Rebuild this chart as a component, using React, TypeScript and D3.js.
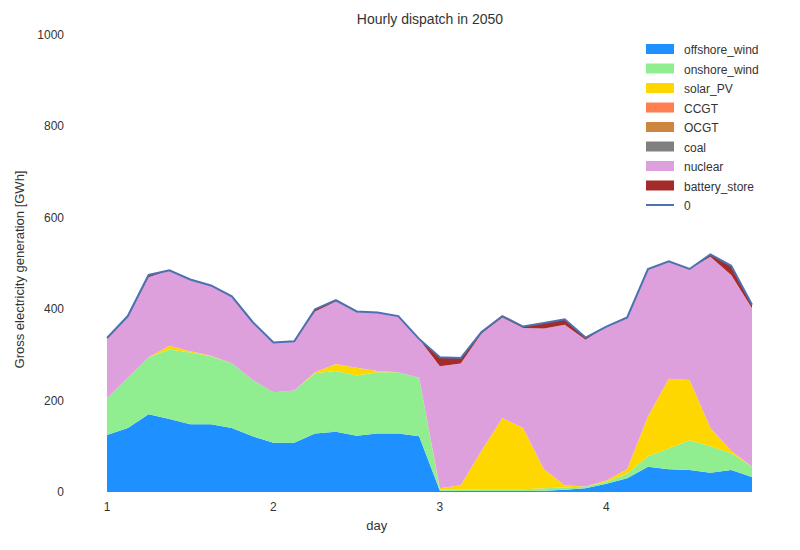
import React from "react";
import * as d3 from "d3";

const days = [1,1.125,1.25,1.375,1.5,1.625,1.75,1.875,2,2.125,2.25,2.375,2.5,2.625,2.75,2.875,3,3.125,3.25,3.375,3.5,3.625,3.75,3.875,4,4.125,4.25,4.375,4.5,4.625,4.75,4.875];
const offshoreWind = [125,140,170,160,148,148,140,122,108,108,128,132,123,128,128,122,3,2,2,2,2,3,5,8,18,30,55,50,48,42,48,33];
const onshoreTop = [205,250,295,312,305,297,282,245,218,222,260,265,255,262,262,250,5,5,6,6,6,8,10,12,22,40,78,95,113,100,85,55];
const solarTop = [205,250,295,320,308,298,282,245,218,222,262,280,272,265,262,250,8,15,90,162,140,50,15,12,25,50,165,248,245,140,90,55];
const battery = [0,0,5,0,0,0,0,0,0,0,5,3,0,0,0,0,20,12,3,3,3,12,12,5,0,0,0,0,0,5,20,8];
const load = [337,385,475,485,465,452,428,372,327,330,400,420,395,393,385,335,295,293,350,385,362,370,378,338,362,382,488,505,488,520,495,410];
const yTicks = [0,200,400,600,800,1000];
const xTicks = [1,2,3,4];

const onshoreWind = onshoreTop.map((v, i) => v - offshoreWind[i]);
const solarPV = solarTop.map((v, i) => v - onshoreTop[i]);
const zeros = days.map(() => 0);
const nuclear = load.map((v, i) => v - battery[i] - solarTop[i]);

const series = [
  { name: "offshore_wind", color: "#1E90FF", vals: offshoreWind },
  { name: "onshore_wind", color: "#90EE90", vals: onshoreWind },
  { name: "solar_PV", color: "#FFD700", vals: solarPV },
  { name: "CCGT", color: "#FF7F50", vals: zeros },
  { name: "OCGT", color: "#CD853F", vals: zeros },
  { name: "coal", color: "#808080", vals: zeros },
  { name: "nuclear", color: "#DDA0DD", vals: nuclear },
  { name: "battery_store", color: "#A52A2A", vals: battery },
];

export default function App() {
  const W = 800, H = 550;
  const x = d3.scaleLinear().domain([1, 4.875]).range([107, 752]);
  const y = d3.scaleLinear().domain([0, 1000]).range([492, 35]);
  const rows = days.map((d, i) => {
    const r: any = { d };
    series.forEach(s => (r[s.name] = s.vals[i]));
    return r;
  });
  const stacked = d3.stack().keys(series.map(s => s.name))(rows);
  const area = d3.area<any>().x(p => x(p.data.d)).y0(p => y(p[0])).y1(p => y(p[1]));
  const line = d3.line<number>().x((_, i) => x(days[i])).y(v => y(v));
  const txt = "#333";
  const font = "'Liberation Sans', Arial, sans-serif";
  return (
    <svg width={W} height={H} style={{ position: "absolute", left: 0, top: 0, fontFamily: font }}>
      <rect width={W} height={H} fill="white" />
      {stacked.map((s, i) => (
        <path key={i} d={area(s as any) || ""} fill={series[i].color} />
      ))}
      <path d={line(load) || ""} fill="none" stroke="#4C72B0" strokeWidth={2} />
      {yTicks.map(t => (
        <text key={t} x={64} y={y(t) + 4} textAnchor="end" fontSize={12} fill={txt}>{t}</text>
      ))}
      {xTicks.map(t => (
        <text key={t} x={x(t)} y={511} textAnchor="middle" fontSize={12} fill={txt}>{t}</text>
      ))}
      <text x={x(2.5) + 20} y={530} textAnchor="middle" fontSize={13} fill={txt}>day</text>
      <text transform={`translate(24,${y(500) + 6}) rotate(-90)`} textAnchor="middle" fontSize={13} fill={txt}>Gross electricity generation [GWh]</text>
      <text x={430} y={24} textAnchor="middle" fontSize={14} fill={txt}>Hourly dispatch in 2050</text>
      {series.map((s, i) => (
        <g key={s.name} transform={`translate(646,${44 + i * 19.5})`}>
          <rect x={0} y={0} width={28} height={10} fill={s.color} />
          <text x={38} y={10} fontSize={12} fill={txt}>{s.name}</text>
        </g>
      ))}
      <g transform={`translate(646,${44 + 8 * 19.5})`}>
        <line x1={0} x2={28} y1={5} y2={5} stroke="#4C72B0" strokeWidth={2} />
        <text x={38} y={10} fontSize={12} fill={txt}>0</text>
      </g>
    </svg>
  );
}
